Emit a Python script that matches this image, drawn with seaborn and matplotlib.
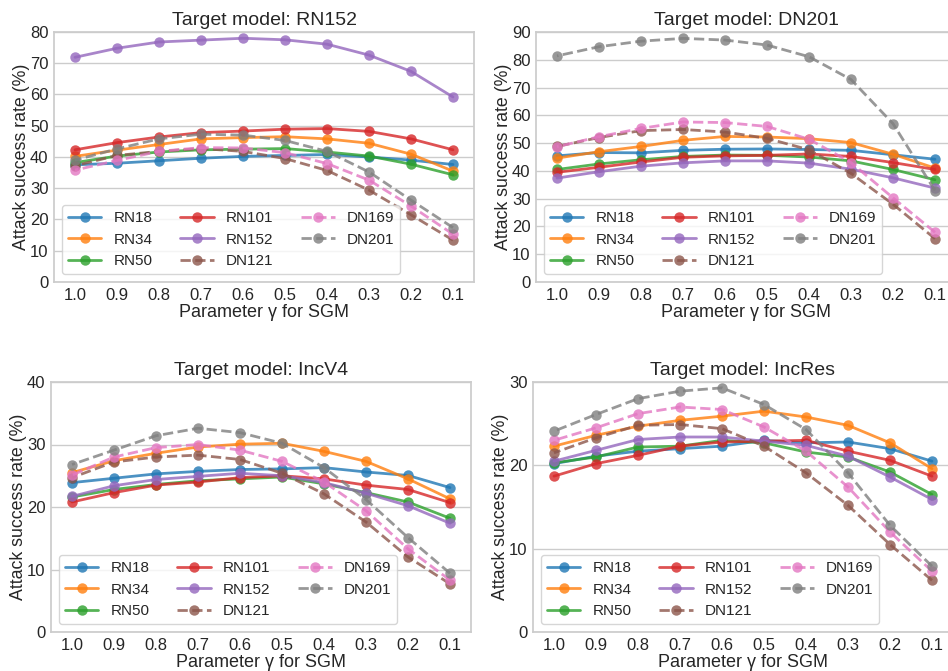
#attack success rate vs SGM gamma, four target models
import numpy as np
import pandas as pd
import matplotlib
matplotlib.use("Agg")
import matplotlib.pyplot as plt
import seaborn as sns

# data
gammas = [1.0, 0.9, 0.8, 0.7, 0.6, 0.5, 0.4, 0.3, 0.2, 0.1]
sources = ['RN18', 'RN34', 'RN50', 'RN101', 'RN152', 'DN121', 'DN169', 'DN201']
targets = ['RN152', 'DN201', 'IncV4', 'IncRes']
y_max = [80, 90, 40, 30]

# target RN152
rn152_RN18 = [37.5, 38.0, 38.8, 39.6, 40.2, 40.5, 40.8, 40.0, 39.0, 37.6]
rn152_RN34 = [40.2, 42.2, 44.0, 45.8, 46.2, 46.5, 45.8, 44.4, 40.9, 35.5]
rn152_RN50 = [38.2, 40.3, 41.6, 42.3, 42.5, 42.7, 41.6, 40.3, 37.7, 34.3]
rn152_RN101 = [42.3, 44.6, 46.4, 47.8, 48.3, 48.9, 49.1, 48.2, 45.8, 42.3]
rn152_RN152 = [71.9, 74.8, 76.8, 77.4, 78.0, 77.5, 76.1, 72.6, 67.4, 59.2]
rn152_DN121 = [37.2, 40.5, 41.8, 42.7, 41.8, 39.5, 35.7, 29.4, 21.5, 13.4]
rn152_DN169 = [35.8, 38.9, 41.8, 43.0, 42.9, 41.4, 37.9, 32.6, 24.3, 15.3]
rn152_DN201 = [39.0, 42.6, 45.8, 47.3, 47.0, 45.3, 41.8, 35.2, 26.2, 17.4]

# target DN201
dn201_RN18 = [45.4, 46.6, 46.5, 47.4, 47.8, 47.9, 47.7, 47.4, 45.8, 44.2]
dn201_RN34 = [44.6, 46.9, 48.8, 51.0, 52.4, 52.2, 51.6, 50.2, 46.0, 41.0]
dn201_RN50 = [40.5, 42.5, 44.0, 45.2, 45.7, 45.6, 45.0, 43.6, 40.5, 36.8]
dn201_RN101 = [39.5, 41.3, 43.2, 44.9, 45.4, 45.6, 46.1, 45.2, 43.0, 40.5]
dn201_RN152 = [37.4, 39.7, 41.7, 42.9, 43.6, 43.6, 42.8, 40.6, 37.5, 33.8]
dn201_DN121 = [48.8, 52.0, 54.5, 54.9, 54.0, 51.7, 47.6, 39.1, 28.0, 15.6]
dn201_DN169 = [48.7, 52.3, 55.3, 57.6, 57.4, 56.0, 51.4, 43.0, 30.3, 17.9]
dn201_DN201 = [81.4, 84.7, 86.7, 87.7, 87.1, 85.3, 81.1, 72.9, 57.0, 32.9]

# target IncV4
incv4_RN18 = [23.9, 24.6, 25.3, 25.7, 26.0, 26.1, 26.3, 25.6, 25.05, 23.1]
incv4_RN34 = [25.5, 27.4, 28.6, 29.6, 30.05, 30.2, 28.9, 27.3, 24.5, 21.3]
incv4_RN50 = [21.6, 22.8, 23.6, 24.2, 24.5, 24.8, 23.7, 22.3, 20.8, 18.2]
incv4_RN101 = [20.8, 22.3, 23.5, 24.0, 24.7, 25.0, 24.5, 23.5, 22.8, 20.7]
incv4_RN152 = [21.7, 23.4, 24.4, 24.9, 25.4, 25.0, 23.9, 22.2, 20.2, 17.4]
incv4_DN121 = [24.7, 27.2, 28.0, 28.3, 27.6, 25.4, 22.1, 17.6, 12.0, 7.7]
incv4_DN169 = [25.1, 28.0, 29.5, 30.0, 29.1, 27.3, 24.0, 19.4, 13.3, 8.3]
incv4_DN201 = [26.8, 29.1, 31.4, 32.6, 31.9, 30.2, 26.3, 21.2, 15.1, 9.4]

# target IncRes
incres_RN18 = [20.2, 21.1, 21.7, 22.0, 22.3, 23.0, 22.7, 22.8, 22.0, 20.5]
incres_RN34 = [22.3, 23.6, 24.7, 25.4, 25.9, 26.5, 25.8, 24.8, 22.7, 19.6]
incres_RN50 = [20.3, 21.0, 22.2, 22.3, 23.0, 22.7, 21.6, 21.0, 19.2, 16.5]
incres_RN101 = [18.7, 20.2, 21.2, 22.3, 22.8, 22.9, 23.0, 21.7, 20.6, 18.7]
incres_RN152 = [20.5, 21.8, 23.1, 23.4, 23.4, 22.9, 22.4, 21.1, 18.6, 15.9]
incres_DN121 = [21.5, 23.3, 24.8, 24.9, 24.4, 22.3, 19.1, 15.2, 10.5, 6.2]
incres_DN169 = [23.0, 24.5, 26.2, 27.0, 26.7, 24.6, 21.7, 17.4, 12.0, 7.3]
incres_DN201 = [24.1, 26.1, 28.0, 28.9, 29.3, 27.3, 24.3, 19.1, 12.8, 7.9]

results = {
    'RN152': [rn152_RN18, rn152_RN34, rn152_RN50, rn152_RN101, rn152_RN152, rn152_DN121, rn152_DN169, rn152_DN201],
    'DN201': [dn201_RN18, dn201_RN34, dn201_RN50, dn201_RN101, dn201_RN152, dn201_DN121, dn201_DN169, dn201_DN201],
    'IncV4': [incv4_RN18, incv4_RN34, incv4_RN50, incv4_RN101, incv4_RN152, incv4_DN121, incv4_DN169, incv4_DN201],
    'IncRes': [incres_RN18, incres_RN34, incres_RN50, incres_RN101, incres_RN152, incres_DN121, incres_DN169, incres_DN201],
}

sns.set_theme(style="whitegrid")
plt.rcParams['font.family'] = ['Liberation Sans', 'DejaVu Sans']

palette = dict(zip(sources, sns.color_palette("tab10", 8)))
dashes = {m: ((3.7, 1.6) if m.startswith('DN') else '') for m in sources}
markers = {m: 'o' for m in sources}

fig = plt.figure(figsize=(9.48, 6.71), dpi=100)
W, H = 948, 671
# axes boxes in pixels: left, top, right, bottom
boxes = [(54, 32, 474, 282), (536, 32, 956, 282), (51, 382, 471, 632), (533, 382, 953, 632)]

for target, box, top in zip(targets, boxes, y_max):
    l, t, r, b = box
    ax = fig.add_axes([l / W, 1 - b / H, (r - l) / W, (b - t) / H])
    rows = []
    for src, vals in zip(sources, results[target]):
        for g, v in zip(gammas, vals):
            rows.append({'gamma': g, 'rate': v, 'model': src})
    df = pd.DataFrame(rows)
    sns.lineplot(data=df, x='gamma', y='rate', hue='model', style='model',
                 hue_order=sources, style_order=sources, palette=palette,
                 dashes=dashes, markers=markers, markersize=7.5,
                 markeredgewidth=0, linewidth=2, alpha=0.8, ax=ax)
    ax.set_xlim(1.05, 0.05)
    ax.set_xticks(gammas)
    ax.set_xticklabels([f'{g:.1f}' for g in gammas])
    ax.set_ylim(0, top)
    ax.set_yticks(np.arange(0, top + 1, 10))
    ax.xaxis.grid(False)
    ax.tick_params(labelsize=12, length=0, pad=4)
    ax.set_title(f'Target model: {target}', fontsize=14, pad=5)
    ax.set_xlabel('Parameter γ for SGM', fontsize=13, labelpad=1)
    ax.set_ylabel('Attack success rate (%)', fontsize=12.8, labelpad=0)
    handles, labels = ax.get_legend_handles_labels()
    ax.legend(handles, labels, ncol=3, loc='lower left', fontsize=11,
              handlelength=2.2, columnspacing=1.8, frameon=True)

plt.savefig('out.png', dpi=100)
